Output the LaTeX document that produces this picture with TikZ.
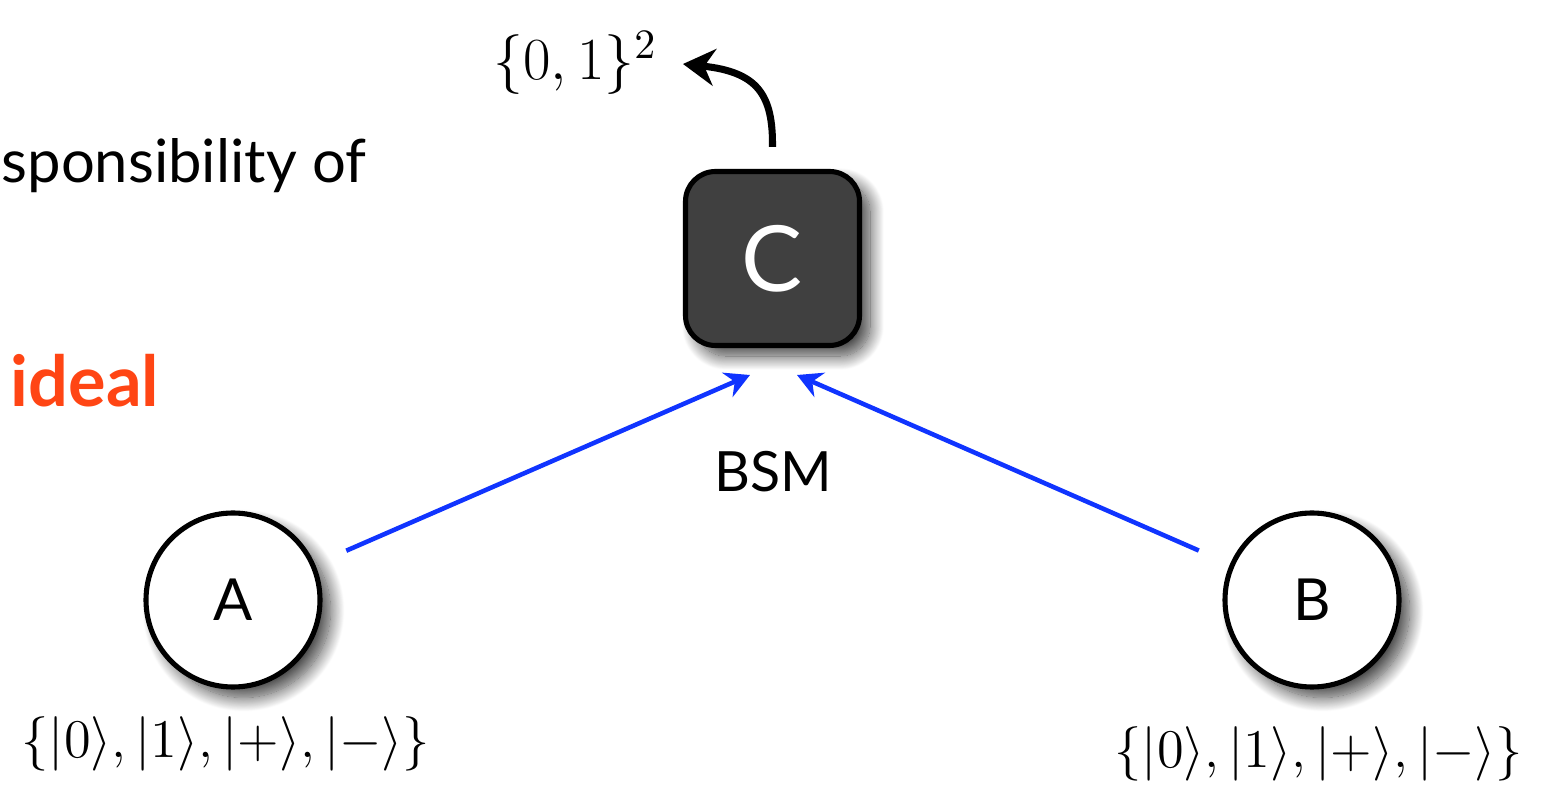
\RequirePackage{fix-cm}
\documentclass[tikz,border=0pt]{standalone}
\usepackage{fontspec}
\setmainfont{Lato}
\usetikzlibrary{arrows.meta,shadows.blur}

\definecolor{wireblue}{RGB}{16,52,255}
\definecolor{hotorange}{RGB}{255,69,20}
\definecolor{boxgrey}{RGB}{64,64,64}

\tikzset{
  softshadow/.style={blur shadow={shadow xshift=3pt, shadow yshift=-3pt,
    shadow blur radius=4pt, shadow blur steps=20, shadow opacity=75}},
  party/.style={circle, draw=black, fill=white, line width=1.45pt,
    minimum size=1.74cm, inner sep=0pt, font=\fontsize{16.5}{18}\selectfont, softshadow},
  relay/.style={rectangle, rounded corners=0.3cm, draw=black, fill=boxgrey, line width=1.45pt,
    minimum size=1.74cm, inner sep=0pt, text=white, font=\fontsize{26}{28}\selectfont, softshadow},
  quantum/.style={wireblue, line width=1.3pt, -{Stealth[length=7pt,width=7.5pt]}},
  classical/.style={black, line width=2pt, -{Stealth[length=9pt,width=10.5pt]}},
  ketset/.style={inner sep=0pt, font=\fontsize{15.5}{18}\selectfont},
  bodytxt/.style={inner sep=0pt, font=\fontsize{17}{20}\selectfont},
}

\begin{document}
\begin{tikzpicture}
  \useasboundingbox (0,0) rectangle (15.5,-7.86);
  \clip (0,0) rectangle (15.5,-7.86);

  % side text
  \node[bodytxt, anchor=base west] (resp) at (0.01,-1.83) {sponsibility of};
  \node[inner sep=0pt, anchor=base west, text=hotorange, font=\fontsize{20}{22}\selectfont\bfseries] (ideal) at (0.10,-4.07) {ideal};

  % parties and relay
  \node[party] (A) at (2.33,-6.00) {A};
  \node[party] (B) at (13.12,-6.00) {B};
  \node[relay] (C) at (7.725,-2.585) {C};

  \node[inner sep=0pt, font=\fontsize{15.8}{18}\selectfont, anchor=base] (bsm) at (7.73,-4.92) {BSM};

  % state alphabets and outcome
  \node[ketset, anchor=base] (sA) at (2.26,-7.58) {$\{|0\rangle,|1\rangle,|+\rangle,|-\rangle\}$};
  \node[ketset, anchor=base] (sB) at (13.19,-7.68) {$\{|0\rangle,|1\rangle,|+\rangle,|-\rangle\}$};
  \node[inner sep=0pt, font=\fontsize{17}{19}\selectfont, anchor=base west] (out) at (4.93,-0.80) {$\{0,1\}^2$};

  % connectors
  \coordinate (inA) at (7.50,-3.75);
  \coordinate (inB) at (7.97,-3.75);
  \coordinate (tip) at (6.83,-0.64);
  \draw[quantum, shorten <=0.34cm] (A) -- (inA);
  \draw[quantum, shorten <=0.34cm] (B) -- (inB);
  \draw[classical] (C.north) ++(0,0.22) .. controls (7.73,-0.95) and (7.58,-0.72) .. (tip);
\end{tikzpicture}
\end{document}
